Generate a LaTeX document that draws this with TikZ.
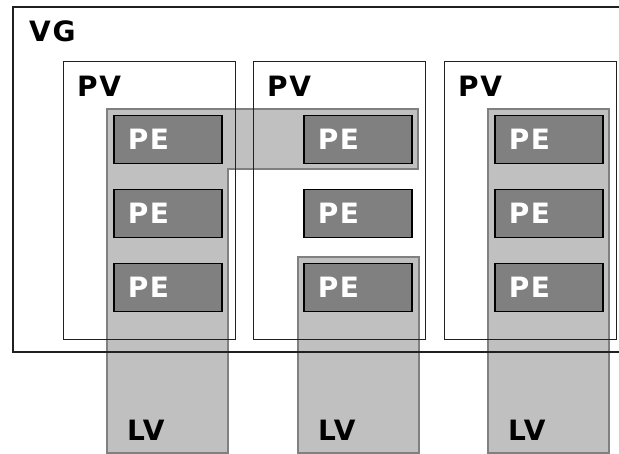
\documentclass[tikz,border=0pt]{standalone}
\usepackage{fontspec}
\setsansfont{DejaVu Sans}
\newfontfamily\tagfont{DejaVu Sans}[LetterSpace=6]
\usetikzlibrary{positioning}
\definecolor{pegray}{HTML}{808080}
\definecolor{lvgray}{HTML}{C0C0C0}
\definecolor{boxline}{HTML}{202020}

\begin{document}
\begin{tikzpicture}[
    x=1pt, y=-1pt,
    pebox/.style={draw=black, line width=1.5pt, fill=pegray, minimum height=48pt,
        text width=80pt, inner xsep=14pt, align=left, text=white, anchor=north west,
        font=\tagfont\bfseries\fontsize{28}{30}\selectfont},
    pvbox/.style={draw=boxline, line width=1.4pt, minimum width=172pt, minimum height=278pt,
        anchor=north west},
    lvarea/.style={draw=pegray, line width=1.4pt, fill=lvgray},
    tag/.style={font=\tagfont\bfseries\fontsize{28}{30}\selectfont, anchor=base west, inner sep=0pt},
]
\useasboundingbox (0,0) rectangle (619,454);

% Logical volumes
\draw[lvarea] (107,109) -- (418,109) -- (418,169) -- (228,169) -- (228,453) -- (107,453) -- cycle;
\draw[lvarea] (298,257) rectangle (419,453);
\draw[lvarea] (488,109) rectangle (609,453);

% Volume group
\draw[draw=boxline, line width=1.4pt] (625,7) -- (13,7) -- (13,352) -- (625,352);
\node[tag] (vg) at (29,42) {VG};

% Physical volumes
\foreach \i/\x in {1/63, 2/253, 3/444} {
    \node[pvbox] (pv\i) at (\x,61) {};
    \node[tag] (pvlbl\i) at (\x+14,97) {PV};
}

% Physical extents
\foreach \col/\x in {1/113, 2/303, 3/494} {
    \foreach \row/\y in {1/115, 2/189, 3/263} {
        \node[pebox] (pe\col\row) at (\x,\y) {PE};
    }
}

\node[tag] (lvlbl1) at (127,441) {LV};
\node[tag] (lvlbl2) at (318,441) {LV};
\node[tag] (lvlbl3) at (508,441) {LV};
\end{tikzpicture}
\end{document}
